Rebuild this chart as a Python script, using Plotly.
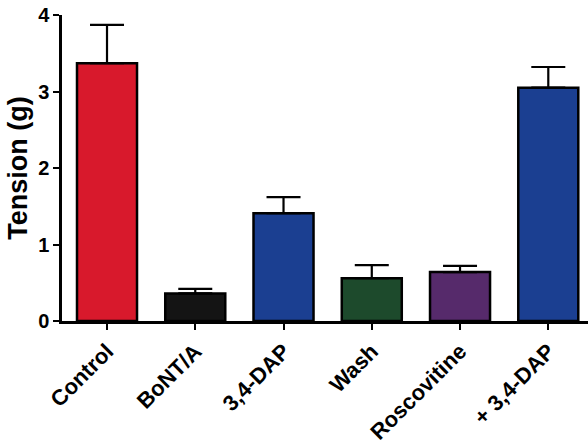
import plotly.graph_objects as go

categories = ["Control", "BoNT/A", "3,4-DAP", "Wash", "Roscovitine", "+ 3,4-DAP"]
tension = [3.37, 0.36, 1.41, 0.56, 0.64, 3.05]
sem = [0.50, 0.06, 0.21, 0.17, 0.08, 0.27]
colors = ["#d8192c", "#141414", "#1b3f91", "#1d4a2c", "#562a6b", "#1b3f91"]
yticks = [0, 1, 2, 3, 4]

fig = go.Figure()
fig.add_trace(go.Bar(
    x=list(range(len(categories))),
    y=tension,
    width=0.68,
    marker=dict(color=colors, line=dict(color="black", width=2.5)),
    error_y=dict(type="data", array=sem, arrayminus=[0]*len(sem), symmetric=False,
                 color="black", thickness=2.2, width=17),
))

font_family = "Liberation Sans, Arial, sans-serif"
fig.update_layout(
    width=588, height=448,
    margin=dict(l=62, r=0, t=15, b=127),
    paper_bgcolor="white", plot_bgcolor="white",
    showlegend=False,
    bargap=0.3,
    xaxis=dict(
        range=[-0.51, 5.45],
        automargin=False,
        tickmode="array",
        tickvals=list(range(len(categories))),
        ticktext=categories,
        tickangle=-45,
        ticklabeloverflow="allow",
        ticks="outside", ticklen=6, tickwidth=2, tickcolor="black",
        showline=True, linecolor="black", linewidth=2.5,
        showgrid=False, zeroline=False,
        tickfont=dict(family=font_family, size=22, color="black", weight="bold"),
    ),
    yaxis=dict(
        range=[0, 4],
        automargin=False,
        tickmode="array",
        tickvals=yticks,
        ticktext=[str(v) for v in yticks],
        ticklabeloverflow="allow",
        ticks="outside", ticklen=6, tickwidth=2, tickcolor="black",
        showline=True, linecolor="black", linewidth=2.5,
        showgrid=False, zeroline=False,
        tickfont=dict(family=font_family, size=20, color="black", weight="bold"),
        title=dict(text="Tension (g)", standoff=3,
                   font=dict(family=font_family, size=27, color="black", weight="bold")),
    ),
)

fig.write_html("out.html",
               config={"displayModeBar": False},
               post_script="document.body.style.margin='0';document.body.style.overflow='hidden';")
